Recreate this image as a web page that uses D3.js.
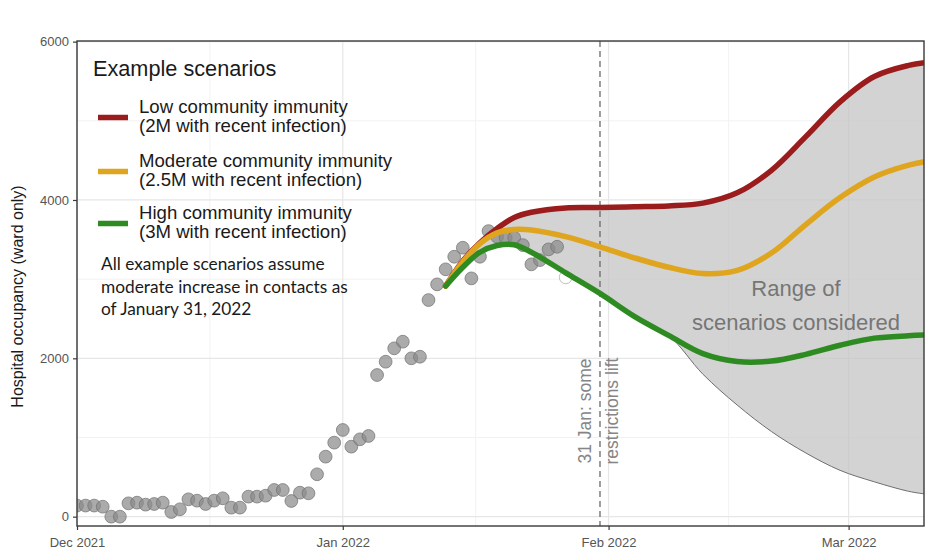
<!DOCTYPE html>
<html>
<head>
<meta charset="utf-8">
<script src="https://cdn.jsdelivr.net/npm/d3@7"></script>
<style>
	body { margin: 0; background: #fff; }
	svg text { font-family: "Liberation Sans", Arial, sans-serif; }
</style>
</head>
<body>
<script>
// observed ward occupancy, one value per day from obsStart
var obsStart = "2021-12-01";
var obsValues = [140, 140, 140, 126, 0, 0, 168, 177, 152, 160, 177, 59, 93, 219, 202, 160,
	202, 232, 114, 114, 253, 253, 265, 337, 337, 198, 303, 295, 535, 758, 935,
	1095, 884, 977, 1019, 1789, 1957, 2126, 2210, 2000, 2020, 2736, 2934, 3124, 3283, 3397,
	3010, 3283, 3607, 3535, 3520, 3523, 3430, 3187, 3241, 3376, 3409, 3023];
var provisionalFrom = "2022-01-27";

// scenario projections
var scenarioDates = ["2022-01-13", "2022-01-15", "2022-01-17", "2022-01-19", "2022-01-21", "2022-01-23",
	"2022-01-27", "2022-01-31", "2022-02-04", "2022-02-08", "2022-02-12", "2022-02-16", "2022-02-20",
	"2022-02-24", "2022-02-28", "2022-03-04", "2022-03-08", "2022-03-10"];
var lowImmunity  = [2913, 3230, 3460, 3640, 3780, 3845, 3900, 3905, 3915, 3925, 3960, 4090, 4375, 4800, 5240, 5560, 5700, 5735];
var modImmunity  = [2913, 3220, 3450, 3585, 3628, 3622, 3537, 3409, 3270, 3150, 3070, 3110, 3330, 3690, 4030, 4290, 4440, 4485];
var highImmunity = [2913, 3150, 3340, 3425, 3435, 3340, 3080, 2820, 2530, 2290, 2060, 1960, 1965, 2050, 2165, 2255, 2285, 2295];
var rangeLower   = [2913, 3150, 3340, 3425, 3435, 3340, 3080, 2820, 2530, 2290, 1800, 1410, 1075, 805, 585, 440, 320, 285];

var scenarioLabels = [
	["Low community immunity", "(2M with recent infection)"],
	["Moderate community immunity", "(2.5M with recent infection)"],
	["High community immunity", "(3M with recent infection)"]
];
var noteLines = ["All example scenarios assume", "moderate increase in contacts as", "of January 31, 2022"];
var rangeLabel = ["Range of", "scenarios considered"];
var eventDate = "2022-01-31";
var eventLabel = ["31 Jan: some", "restrictions lift"];

var yTicks = [0, 2000, 4000, 6000];
var monthTicks = ["2021-12-01", "2022-01-01", "2022-02-01", "2022-03-01"];

var scenarioColors = ["#9b1c1c", "#dfa51f", "#2e8b22"];

var parse = d3.timeParse("%Y-%m-%d");
var W = 944, H = 559;
var padL = 77, padR = 924, padT = 41, padB = 526;

var svg = d3.select("body").append("svg")
	.attr("width", W)
	.attr("height", H);

var x = d3.scaleTime()
	.domain([parse(obsStart), new Date(2022, 2, 9, 19)])
	.range([padL, padR]);
var y = d3.scaleLinear()
	.domain([-118, 6008])
	.range([padB, padT]);

var monthDates = monthTicks.map(parse);

// grid, minor first
var midDates = d3.pairs(monthDates).map(function (p) { return new Date((+p[0] + +p[1]) / 2); });
var midVals = d3.pairs(yTicks).map(function (p) { return (p[0] + p[1]) / 2; });
var grid = svg.append("g");
grid.selectAll(".vminor").data(midDates).enter().append("line")
	.attr("x1", x).attr("x2", x).attr("y1", padT).attr("y2", padB)
	.attr("stroke", "#f2f2f2").attr("stroke-width", 1);
grid.selectAll(".hminor").data(midVals).enter().append("line")
	.attr("x1", padL).attr("x2", padR).attr("y1", y).attr("y2", y)
	.attr("stroke", "#f2f2f2").attr("stroke-width", 1);
grid.selectAll(".vmajor").data(monthDates).enter().append("line")
	.attr("x1", x).attr("x2", x).attr("y1", padT).attr("y2", padB)
	.attr("stroke", "#e6e6e6").attr("stroke-width", 1.2);
grid.selectAll(".hmajor").data(yTicks).enter().append("line")
	.attr("x1", padL).attr("x2", padR).attr("y1", y).attr("y2", y)
	.attr("stroke", "#e6e6e6").attr("stroke-width", 1.2);

svg.append("clipPath").attr("id", "clip")
	.append("rect").attr("x", padL).attr("y", padT).attr("width", padR - padL).attr("height", padB - padT);
var plot = svg.append("g").attr("clip-path", "url(#clip)");

var sDates = scenarioDates.map(parse);
var curve = d3.curveCatmullRom.alpha(0.5);

// range ribbon
var ribbon = sDates.map(function (d, i) { return { date: d, lo: rangeLower[i], hi: lowImmunity[i] }; });
plot.append("path")
	.datum(ribbon)
	.attr("d", d3.area().curve(curve)
		.x(function (d) { return x(d.date); })
		.y0(function (d) { return y(d.lo); })
		.y1(function (d) { return y(d.hi); }))
	.attr("fill", "#c4c4c4")
	.attr("fill-opacity", 0.75);
plot.append("path")
	.datum(ribbon)
	.attr("d", d3.line().curve(curve)
		.x(function (d) { return x(d.date); })
		.y(function (d) { return y(d.lo); }))
	.attr("fill", "none")
	.attr("stroke", "#6e6e6e")
	.attr("stroke-width", 1);

// restrictions lift marker
plot.append("line")
	.attr("x1", x(parse(eventDate))).attr("x2", x(parse(eventDate)))
	.attr("y1", padT).attr("y2", padB)
	.attr("stroke", "#6a6a6a")
	.attr("stroke-width", 1.3)
	.attr("stroke-dasharray", "6,4");

// observed points
var obs = obsValues.map(function (v, i) {
	return { date: d3.timeDay.offset(parse(obsStart), i), value: v };
});
var provisional = parse(provisionalFrom);
plot.selectAll(".pt").data(obs).enter().append("circle")
	.attr("cx", function (d) { return x(d.date); })
	.attr("cy", function (d) { return y(d.value); })
	.attr("r", 6.4)
	.attr("fill", function (d) { return d.date >= provisional ? "#fff" : "#8a8a8a"; })
	.attr("fill-opacity", function (d) { return d.date >= provisional ? 1 : 0.72; })
	.attr("stroke", function (d) { return d.date >= provisional ? "#a8a8a8" : "#707070"; })
	.attr("stroke-opacity", 0.7)
	.attr("stroke-width", 1);

// scenario lines
[lowImmunity, modImmunity, highImmunity].forEach(function (vals, k) {
	plot.append("path")
		.datum(sDates.map(function (d, i) { return { date: d, value: vals[i] }; }))
		.attr("d", d3.line().curve(curve)
			.x(function (d) { return x(d.date); })
			.y(function (d) { return y(d.value); }))
		.attr("fill", "none")
		.attr("stroke", scenarioColors[k])
		.attr("stroke-width", 5.5)
		.attr("stroke-linecap", "round");
});

// panel border
svg.append("rect")
	.attr("x", padL).attr("y", padT)
	.attr("width", padR - padL).attr("height", padB - padT)
	.attr("fill", "none")
	.attr("stroke", "#3a3a3a")
	.attr("stroke-width", 1.4);

// axes
var xAxis = svg.append("g")
	.attr("transform", "translate(0," + padB + ")")
	.call(d3.axisBottom(x).tickValues(monthDates).tickFormat(d3.timeFormat("%b %Y")).tickSize(4));
var yAxis = svg.append("g")
	.attr("transform", "translate(" + padL + ",0)")
	.call(d3.axisLeft(y).tickValues(yTicks).tickFormat(d3.format("d")).tickSize(4));
[xAxis, yAxis].forEach(function (a) {
	a.select(".domain").remove();
	a.selectAll("line").attr("stroke", "#3a3a3a").attr("stroke-width", 1.2);
	a.selectAll("text")
		.attr("fill", "#555")
		.style("font-size", "13px")
		.style("font-family", "'Liberation Sans', Arial, sans-serif");
});
xAxis.selectAll("text").attr("dy", "1.05em");
yAxis.selectAll("text").attr("dx", "-1px");

svg.append("text")
	.attr("transform", "translate(23," + ((padT + padB) / 2 + 13) + ") rotate(-90)")
	.attr("text-anchor", "middle")
	.attr("fill", "#1a1a1a")
	.style("font-size", "16px")
	.text("Hospital occupancy (ward only)");

// event label
var ex = x(parse(eventDate));
svg.selectAll(".evt").data(eventLabel).enter().append("text")
	.attr("transform", function (d, i) {
		return "translate(" + (ex - 9 + i * 27) + ",411) rotate(-90)";
	})
	.attr("text-anchor", "middle")
	.attr("fill", "#858585")
	.style("font-size", "17.5px")
	.text(function (d) { return d; });

// range label
svg.selectAll(".rng").data(rangeLabel).enter().append("text")
	.attr("x", 796)
	.attr("y", function (d, i) { return 296 + i * 34; })
	.attr("text-anchor", "middle")
	.attr("fill", "#767676")
	.style("font-size", "22px")
	.text(function (d) { return d; });

// legend
var legend = svg.append("g");
legend.append("text")
	.attr("x", 93).attr("y", 76)
	.attr("fill", "#1a1a1a")
	.style("font-size", "21.7px")
	.text("Example scenarios");
var keyY = [117.5, 171.5, 223.5];
scenarioLabels.forEach(function (lines, k) {
	legend.append("line")
		.attr("x1", 98).attr("x2", 128)
		.attr("y1", keyY[k]).attr("y2", keyY[k])
		.attr("stroke", scenarioColors[k])
		.attr("stroke-width", 5.5);
	legend.selectAll(".lab" + k).data(lines).enter().append("text")
		.attr("x", 139)
		.attr("y", function (d, i) { return keyY[k] - 5 + i * 19.5; })
		.attr("fill", "#1a1a1a")
		.style("font-size", "18.6px")
		.text(function (d) { return d; });
});
legend.selectAll(".note").data(noteLines).enter().append("text")
	.attr("x", 101)
	.attr("y", function (d, i) { return 270 + i * 22.5; })
	.attr("fill", "#1a1a1a")
	.style("font-family", "Lato, 'Open Sans', sans-serif")
	.style("font-size", "17.3px")
	.text(function (d) { return d; });
</script>
</body>
</html>
